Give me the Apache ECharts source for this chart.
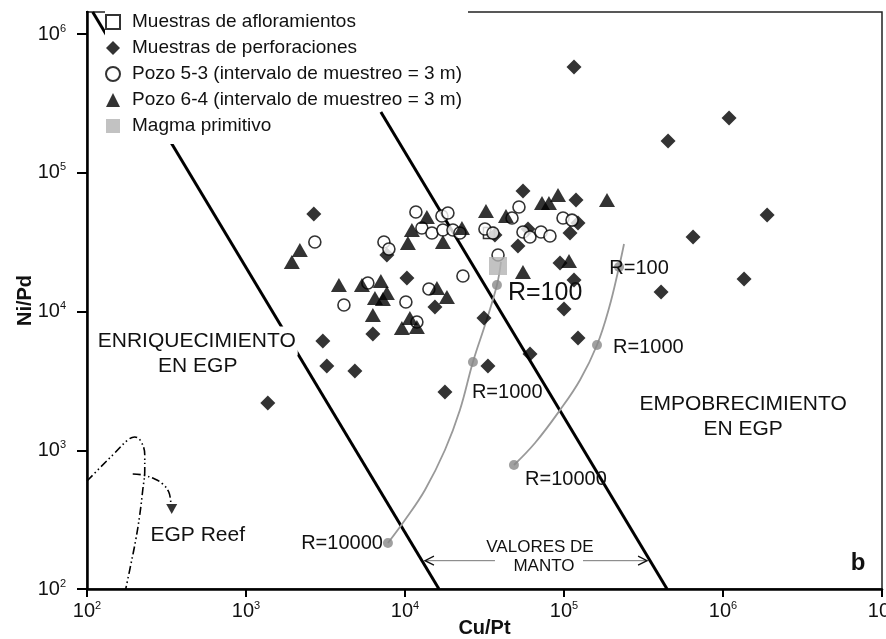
<!DOCTYPE html>
<html><head><meta charset="utf-8">
<script src="https://cdn.jsdelivr.net/npm/echarts@6/dist/echarts.min.js"></script>
<style>html,body{margin:0;padding:0;background:#fff}#c{width:886px;height:639px}</style>
</head><body><div id="c"></div>
<script>
const FONT = '"Liberation Sans", Arial, Helvetica, sans-serif';

// ---- data (Cu/Pt, Ni/Pd) ----
const afloramientos = [[33730, 36800]];
const perforaciones = [
  [1371, 2190], [2671, 50430], [7690, 25540], [10280, 17430], [15430, 10770],
  [31380, 8980], [6280, 6880], [3043, 6130], [3224, 4050], [4840, 3730],
  [17830, 2630], [36790, 35570], [51340, 29660], [55210, 73900], [119000, 63600],
  [122500, 43400], [109100, 36800], [59350, 39300], [94400, 22360], [115600, 16870],
  [100000, 10420], [122500, 6440], [61100, 4940], [33230, 4050], [115600, 578400],
  [1092000, 248000], [451200, 169400], [1895000, 49600], [648000, 34400],
  [1357000, 17150], [407700, 13820]
];
const pozo53 = [
  [2710, 31700], [7370, 31700], [7920, 28200], [11710, 52100], [17070, 48800],
  [18620, 51300], [12770, 40000], [14770, 36800], [17320, 38700], [20020, 38700],
  [22150, 36800], [31830, 39300], [35730, 36800], [23140, 18030], [5840, 16050],
  [4130, 11140], [10130, 11710], [14140, 14530], [11880, 8400], [38460, 25540],
  [52100, 56700], [47100, 47200], [98600, 47200], [112300, 45600], [55200, 37400],
  [61100, 34400], [71700, 37400], [81600, 35000]
];
const pozo64 = [
  [2181, 27750], [1942, 22740], [3840, 15520], [5360, 15520], [7050, 16590],
  [7690, 13590], [6470, 12520], [7260, 12310], [6280, 9440], [15880, 14770],
  [18350, 12720], [9560, 7610], [10730, 8980], [11880, 7730], [13730, 48000],
  [11050, 38700], [10430, 31200], [17320, 31700], [22810, 40000], [32300, 53000],
  [43150, 48800], [91700, 69100], [72700, 60500], [80400, 60500], [186400, 63600],
  [55200, 19260], [107500, 23120]
];
const magma = [[38460, 21280]];

// mantle-value boundary lines
const mantleLow = [[108.6, 1441000], [16350, 100]];
const mantleHigh = [[7050, 274000], [444800, 100]];
// mixing curves (R)
const mixA = [[7810, 214.5], [9990, 314], [13350, 517], [17830, 1004], [22150, 1950], [26750, 4325], [32300, 8400], [37870, 15520], [40130, 22740]];
const mixADots = [[7810, 214.5], [26750, 4325], [37870, 15520]];
const mixB = [[48450, 783], [65700, 1128], [94400, 1950], [126100, 3209], [161300, 5735], [192000, 10600], [221900, 20930], [238500, 30650]];
const mixBDots = [[48450, 783], [161300, 5735], [221900, 20930]];
// EGP reef trend
const reefA = [[100, 600], [120.2, 745], [149.4, 955], [180.4, 1185], [199.6, 1246], [217.8, 1166], [230.8, 924], [230.8, 720], [224.2, 517], [214.6, 341], [202.5, 225.5], [188.4, 148.9], [175.2, 100]];
const reefB = [[193.9, 674], [224.2, 663], [266.8, 620.7], [299.5, 571], [326.8, 500], [336.3, 423.6]];
const reefArrow = [[341, 377]];

// ticks
const xTicks = [100, 1000, 10000, 100000, 1000000, 10000000];
const yTicks = [100, 1000, 10000, 100000, 1000000];

// annotations
const annotations = [
  {text: 'ENRIQUECIMIENTO', at: [490, 6130], size: 21, align: 'center', bg: true},
  {text: 'EN EGP', at: [497, 4050], size: 21, align: 'center', bg: true},
  {text: 'EMPOBRECIMIENTO', at: [1338000, 2154], size: 21, align: 'center'},
  {text: 'EN EGP', at: [1338000, 1423], size: 21, align: 'center'},
  {text: 'EGP Reef', at: [497, 245], size: 21, align: 'center'},
  {text: 'R=10000', at: [7260, 214.5], size: 20, align: 'right'},
  {text: 'R=1000', at: [26360, 2630], size: 20, align: 'left'},
  {text: 'R=100', at: [44420, 13590], size: 25, align: 'left'},
  {text: 'R=10000', at: [56860, 610.6], size: 20, align: 'left'},
  {text: 'R=1000', at: [203400, 5548], size: 20, align: 'left'},
  {text: 'R=100', at: [192900, 20590], size: 20, align: 'left'},
  {text: 'VALORES DE', at: [70630, 200.8], size: 17, align: 'center', bg: true},
  {text: 'MANTO', at: [74830, 146.5], size: 17, align: 'center', bg: true},
  {text: 'b', at: [7085000, 154], size: 24, align: 'center', bold: true}
];
const arrows = [
  {from: [36800, 160], to: [13350, 160]},
  {from: [131700, 160], to: [333000, 160]}
];

const names = ['Muestras de afloramientos', 'Muestras de perforaciones',
  'Pozo 5-3 (intervalo de muestreo = 3 m)', 'Pozo 6-4 (intervalo de muestreo = 3 m)', 'Magma primitivo'];

function isTick(v, list) { return list.some(t => Math.abs(Math.log10(v) - Math.log10(t)) < 1e-6); }
function supLabel(list) {
  return function (v) {
    if (!isTick(v, list)) return '';
    return '{b|10}{s|' + Math.round(Math.log10(v)) + '}';
  };
}
const rich = {
  b: {fontSize: 20, fontFamily: FONT, color: '#111', lineHeight: 22},
  s: {fontSize: 11, fontFamily: FONT, color: '#111', verticalAlign: 'top', lineHeight: 11}
};

const chart = echarts.init(document.getElementById('c'));
const option = {
  animation: false,
  backgroundColor: '#fff',
  textStyle: {fontFamily: FONT},
  grid: {left: 87, right: 4, top: 12, bottom: 50, show: true, borderColor: '#222', borderWidth: 1.5,
    containLabel: false, outerBoundsMode: 'none'},
  legend: {
    orient: 'vertical', left: 105, top: 11, padding: [1, 6, 8, 0], itemGap: 6,
    itemWidth: 14, itemHeight: 14, backgroundColor: '#fff', selectedMode: false,
    textStyle: {fontFamily: FONT, fontSize: 19, color: '#111', lineHeight: 20, padding: [0, 0, 0, 7]},
    data: names, z: 5
  },
  xAxis: {
    type: 'log', logBase: 10, min: 100, max: 10000000,
    name: 'Cu/Pt', nameLocation: 'middle', nameGap: 29, nameMoveOverlap: false,
    nameTextStyle: {fontFamily: FONT, fontSize: 20, fontWeight: 'bold', color: '#111'},
    axisLine: {lineStyle: {color: '#000', width: 2.5}},
    axisTick: {length: 8, lineStyle: {color: '#000', width: 2}},
    axisLabel: {formatter: supLabel(xTicks), rich: rich, margin: 11, fontSize: 20},
    splitLine: {show: false}
  },
  yAxis: {
    type: 'log', logBase: 10, min: 100, max: 1441000,
    name: 'Ni/Pd', nameLocation: 'middle', nameGap: 52, nameRotate: 90, nameMoveOverlap: false,
    nameTextStyle: {fontFamily: FONT, fontSize: 20, fontWeight: 'bold', color: '#111'},
    axisLine: {lineStyle: {color: '#000', width: 2.5}},
    axisTick: {length: 10, lineStyle: {color: '#000', width: 2}},
    axisLabel: {formatter: supLabel(yTicks), rich: rich, margin: 21, fontSize: 20},
    splitLine: {show: false}
  },
  series: [
    {name: 'mantleLow', type: 'line', data: mantleLow, symbol: 'none', silent: true, lineStyle: {color: '#000', width: 3}, z: 2},
    {name: 'mantleHigh', type: 'line', data: mantleHigh, symbol: 'none', silent: true, lineStyle: {color: '#000', width: 3}, z: 8},
    {name: 'mixA', type: 'line', data: mixA, symbol: 'none', smooth: 0.4, silent: true, lineStyle: {color: '#999', width: 1.8}, z: 9},
    {name: 'mixB', type: 'line', data: mixB, symbol: 'none', smooth: 0.4, silent: true, lineStyle: {color: '#999', width: 1.8}, z: 9},
    {name: 'reefA', type: 'line', data: reefA, symbol: 'none', smooth: 0.4, silent: true, lineStyle: {color: '#000', width: 1.6, type: [8, 3, 1.5, 3, 1.5, 3]}, z: 2},
    {name: 'reefB', type: 'line', data: reefB, symbol: 'none', smooth: 0.4, silent: true, lineStyle: {color: '#000', width: 1.6, type: [8, 3, 1.5, 3, 1.5, 3]}, z: 2},
    {name: 'reefArrow', type: 'scatter', data: reefArrow, symbol: 'triangle', symbolRotate: 180, symbolSize: [11, 10], itemStyle: {color: '#000'}, silent: true, z: 3},
    {name: 'mixADots', type: 'scatter', data: mixADots, symbol: 'circle', symbolSize: 10, itemStyle: {color: '#888'}, silent: true, z: 10},
    {name: 'mixBDots', type: 'scatter', data: mixBDots, symbol: 'circle', symbolSize: 10, itemStyle: {color: '#888'}, silent: true, z: 10},
    {name: names[0], type: 'scatter', data: afloramientos, symbol: 'rect', symbolSize: 11, itemStyle: {color: '#fff', borderColor: '#000', borderWidth: 1.5}, z: 12},
    {name: names[1], type: 'scatter', data: perforaciones, symbol: 'diamond', symbolSize: 15, itemStyle: {color: '#000'}, z: 12},
    {name: names[2], type: 'scatter', data: pozo53, symbol: 'circle', symbolSize: 12, itemStyle: {color: '#fff', borderColor: '#000', borderWidth: 1.6}, z: 12},
    {name: names[3], type: 'scatter', data: pozo64, symbol: 'triangle', symbolSize: [16, 14], itemStyle: {color: '#000'}, z: 12},
    {name: names[4], type: 'scatter', data: magma, symbol: 'rect', symbolSize: 18, itemStyle: {color: '#b3b3b3'}, z: 12}
  ]
};
chart.setOption(option);

const P = p => chart.convertToPixel({xAxisIndex: 0, yAxisIndex: 0}, p);
const g = [];
annotations.forEach(a => {
  const q = P(a.at);
  g.push({
    type: 'text', x: q[0], y: q[1], z: 100,
    style: {
      text: a.text, fontFamily: FONT, fontSize: a.size, fontWeight: a.bold ? 'bold' : 'normal',
      fill: '#111', align: a.align, verticalAlign: 'middle',
      backgroundColor: a.bg ? '#fff' : null, padding: a.bg ? [4, 2] : 0
    }
  });
});
arrows.forEach(a => {
  const p1 = P(a.from), p2 = P(a.to);
  const dir = Math.sign(p2[0] - p1[0]);
  g.push({type: 'polyline', z: 100, shape: {points: [p1, p2]}, style: {stroke: '#777', lineWidth: 1, fill: null}});
  g.push({type: 'polyline', z: 100, shape: {points: [[p2[0] - dir * 9, p2[1] - 4.5], p2, [p2[0] - dir * 9, p2[1] + 4.5]]}, style: {stroke: '#111', lineWidth: 1.3, fill: null}});
});
// hide the extra tick that the log axis puts at its top end
const yTopPx = P([100, 1441000]);
g.push({type: 'rect', z: 100, shape: {x: yTopPx[0] - 13, y: yTopPx[1] - 3, width: 12, height: 6}, style: {fill: '#fff'}});
chart.setOption({graphic: g});
</script>
</body></html>
